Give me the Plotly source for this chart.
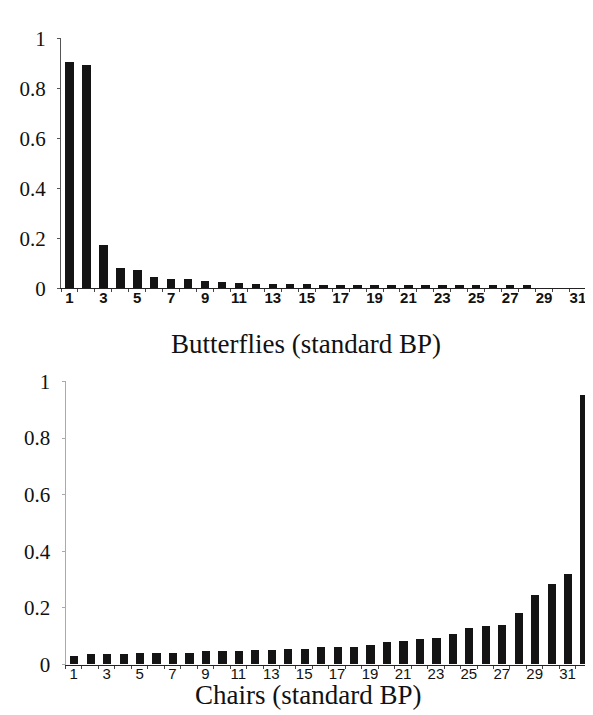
import plotly.graph_objects as go

categories = list(range(1, 33))
butterflies = [0.905, 0.89, 0.17, 0.078, 0.072, 0.044, 0.034, 0.034, 0.028, 0.024,
               0.02, 0.017, 0.017, 0.016, 0.015, 0.012, 0.012, 0.013, 0.011, 0.011,
               0.012, 0.013, 0.010, 0.011, 0.010, 0.011, 0.011, 0.010, 0.0, 0.0,
               0.0, 0.0]
chairs = [0.030, 0.035, 0.037, 0.037, 0.038, 0.041, 0.041, 0.041, 0.045, 0.045,
          0.045, 0.050, 0.050, 0.054, 0.053, 0.060, 0.060, 0.060, 0.069, 0.079,
          0.082, 0.088, 0.092, 0.105, 0.128, 0.135, 0.139, 0.181, 0.246, 0.283,
          0.320, 0.950]
x_ticks = list(range(1, 32, 2))
y_ticks = [0, 0.2, 0.4, 0.6, 0.8, 1]
y_labels = ["0", "0.2", "0.4", "0.6", "0.8", "1"]
titles = ["Butterflies (standard BP)", "Chairs (standard BP)"]

BAR = "#141414"
SERIF = "Liberation Serif"
SANS = "Liberation Sans"
PAD = "\u00a0\u200a"  # trailing space to push labels away from the axis

fig = go.Figure()
fig.add_trace(go.Bar(x=categories, y=butterflies, width=0.5, marker_color=BAR,
                     marker_line_width=0, xaxis="x", yaxis="y", showlegend=False))
fig.add_trace(go.Bar(x=categories, y=chairs, width=0.5, marker_color=BAR,
                     marker_line_width=0, xaxis="x2", yaxis="y2", showlegend=False))

def xaxis(domain, rng, anchor, bold, standoff):
    return dict(domain=domain, range=rng, anchor=anchor, showgrid=False, zeroline=False,
                showline=True, linecolor="#222", linewidth=1,
                tickmode="array", tickvals=x_ticks, ticktext=[str(v) for v in x_ticks],
                ticks="", ticklabelstandoff=standoff,
                tickfont=dict(family=SANS, size=15, color="#111",
                              weight="bold" if bold else "normal"),
                minor=dict(tick0=0.5, dtick=1, ticks="outside", ticklen=3,
                           tickcolor="#444", showgrid=False))

def yaxis(domain, anchor, color):
    return dict(domain=domain, range=[0, 1], anchor=anchor, showgrid=False, zeroline=False,
                showline=True, linecolor=color, linewidth=1,
                tickmode="array", tickvals=y_ticks, ticktext=[t + PAD for t in y_labels],
                ticks="outside", ticklen=3, tickcolor=color,
                tickfont=dict(family=SERIF, size=21, color="#111"))

fig.update_layout(
    width=593, height=715, margin=dict(l=0, r=0, t=0, b=0),
    paper_bgcolor="white", plot_bgcolor="white", bargap=0,
    xaxis=xaxis([53 / 593, 1], [0.5, 32.36], "y", True, -4),
    yaxis=yaxis([1 - 277.5 / 715, 1 - 19 / 715], "x", "#555"),
    xaxis2=xaxis([57.5 / 593, 1], [0.5, 33.03], "y2", False, -5),
    yaxis2=yaxis([1 - 667 / 715, 1 - 374 / 715], "x2", "#aaa"),
    annotations=[
        dict(text=titles[0], x=298 / 593, y=1 - 335 / 715, xref="paper", yref="paper",
             showarrow=False, xanchor="center", yanchor="middle",
             font=dict(family=SERIF, size=27, color="#111")),
        dict(text=titles[1], x=300 / 593, y=1 - 698 / 715, xref="paper", yref="paper",
             showarrow=False, xanchor="center", yanchor="middle",
             font=dict(family=SERIF, size=27, color="#111")),
    ],
)

fig.write_html("out.html")
